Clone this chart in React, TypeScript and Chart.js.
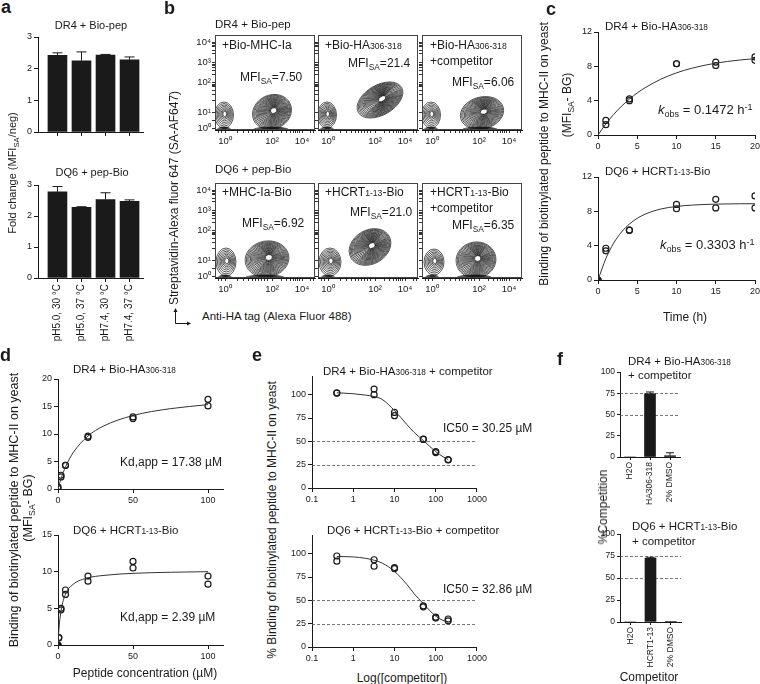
import React, { useEffect, useRef } from 'react';
import { Chart, registerables } from 'chart.js';

Chart.register(...registerables);

const FONT = '"Liberation Sans", Arial, Helvetica, sans-serif';
Chart.defaults.font.family = FONT;
Chart.defaults.color = '#1a1a1a';
const INK = '#1a1a1a';

// ---------------- Panel a ----------------
const aCategories = ['pH5.0, 30 °C', 'pH5.0, 37 °C', 'pH7.4, 30 °C', 'pH7.4, 37 °C'];
const aPositions = [0, 1, 2, 3];
const aDR4Mean = [2.42, 2.25, 2.43, 2.28];
const aDR4ErrTop = [2.5, 2.53, 2.45, 2.37];
const aDQ6Mean = [2.78, 2.28, 2.53, 2.47];
const aDQ6ErrTop = [2.95, 2.3, 2.75, 2.52];
const aYTicks = [0, 1, 2, 3];

// ---------------- Panel b (flow cytometry contours) ----------------
const bXMajor = [10, 57, 87];
const bXMajorLabels = ['10⁰', '10²', '10⁴'];
const bXMinor = [3, 6, 22, 28, 33, 37, 40, 43, 46, 49, 52, 66, 71, 75, 78, 80, 82, 84, 95, 98];
const bYMajor = [2, 18, 48, 68, 88];
const bYMajorLabels = ['10⁰', '10¹', '10²', '10³', '10⁴'];
const bYMinor = [10, 30, 36, 40, 43, 45, 46, 56, 60, 63, 65, 66, 76, 80, 83, 85, 86];

const bDR4MhcIa = [
  { x: 9, y: 15, rx: 9.5, ry: 13, rot: 0, n: 8 },
  { x: 57, y: 18, rx: 20, ry: 17, rot: 25, n: 20 },
  { x: 9, y: 0, rx: 7, ry: 3, rot: 0, n: 6 },
  { x: 56, y: 0, rx: 18, ry: 3, rot: 0, n: 7 },
];
const bDR4HA = [
  { x: 9, y: 15, rx: 9.5, ry: 13, rot: 0, n: 9 },
  { x: 62, y: 30, rx: 25, ry: 15, rot: 30, n: 22 },
  { x: 9, y: 0, rx: 7, ry: 3, rot: 0, n: 6 },
];
const bDR4HAComp = [
  { x: 9, y: 15, rx: 9.5, ry: 13, rot: 0, n: 8 },
  { x: 60, y: 17, rx: 22, ry: 16, rot: 15, n: 20 },
  { x: 9, y: 0, rx: 7, ry: 3, rot: 0, n: 6 },
  { x: 58, y: 0, rx: 18, ry: 3, rot: 0, n: 7 },
];
const bDQ6MhcIa = [
  { x: 11, y: 16, rx: 10, ry: 14, rot: 0, n: 8 },
  { x: 52, y: 19, rx: 22, ry: 18, rot: 10, n: 20 },
  { x: 10, y: 0, rx: 7, ry: 3, rot: 0, n: 6 },
  { x: 50, y: 0, rx: 20, ry: 3, rot: 0, n: 7 },
];
const bDQ6HCRT = [
  { x: 12, y: 16, rx: 11, ry: 14, rot: 0, n: 9 },
  { x: 52, y: 31, rx: 22, ry: 17, rot: 30, n: 22 },
  { x: 10, y: 0, rx: 7, ry: 3, rot: 0, n: 6 },
];
const bDQ6HCRTComp = [
  { x: 12, y: 16, rx: 10, ry: 13, rot: 0, n: 8 },
  { x: 54, y: 18, rx: 20, ry: 18, rot: 10, n: 20 },
  { x: 10, y: 0, rx: 7, ry: 3, rot: 0, n: 6 },
  { x: 52, y: 0, rx: 18, ry: 3, rot: 0, n: 7 },
];

// ---------------- Panel c ----------------
const cDR4Time = [1, 4, 10, 15, 20];
const cDR4Rep1 = [1.7, 4.2, 8.3, 8.5, 9.1];
const cDR4Rep2 = [1.2, 4.0, 8.3, 8.1, 8.7];
const cDQ6Time = [0, 1, 4, 10, 15, 20];
const cDQ6Rep1 = [0, 3.7, 5.8, 8.8, 9.4, 9.8];
const cDQ6Rep2 = [0, 3.4, 5.8, 8.3, 8.4, 8.4];
const cFitTime = [0, 1, 2, 3, 4, 5, 6, 8, 10, 12, 15, 18, 20];
const cDR4Fit = [0, 1.29, 2.4, 3.36, 4.18, 4.9, 5.51, 6.5, 7.24, 7.79, 8.37, 8.73, 8.9];
const cDQ6Fit = [0, 2.5, 4.3, 5.59, 6.52, 7.19, 7.67, 8.27, 8.57, 8.73, 8.84, 8.88, 8.89];
const cXTicks = [0, 5, 10, 15, 20];
const cYTicks = [0, 4, 8, 12];

// ---------------- Panel d ----------------
const dDR4Conc = [0, 2, 5, 20, 50, 100];
const dDR4Rep1 = [0.4, 2.5, 4.3, 9.6, 13.1, 16.3];
const dDR4Rep2 = [0.1, 2.2, 4.3, 9.4, 12.8, 15.1];
const dDQ6Conc = [0, 0.5, 2, 5, 20, 50, 100];
const dDQ6Rep1 = [0, 1.0, 5.0, 7.5, 9.4, 11.4, 9.4];
const dDQ6Rep2 = [0, 1.0, 4.8, 6.9, 8.7, 10.5, 8.3];
const dFitConc = [0, 0.5, 1, 2, 5, 10, 20, 30, 50, 75, 100];
const dDR4Fit = [0, 0.5, 0.98, 1.86, 4.02, 6.57, 9.63, 11.4, 13.36, 14.61, 15.33];
const dDQ6Fit = [0, 1.77, 3.02, 4.67, 6.93, 8.26, 9.15, 9.48, 9.77, 9.92, 10.0];
const dXTicks = [0, 50, 100];
const dDR4YTicks = [0, 5, 10, 15, 20];
const dDQ6YTicks = [0, 5, 10, 15];

// ---------------- Panel e ----------------
const eConc = [0.4, 3.2, 10, 50, 100, 200];
const eDR4Rep1 = [102, 106, 81, 52.5, 39, 30.5];
const eDR4Rep2 = [101.5, 100, 77.5, 52, 38, 30];
const eDQ6Rep1 = [97.5, 93.5, 85, 44, 32, 30];
const eDQ6Rep2 = [92, 86.5, 84, 43, 31, 28];
const eFitConc = [0.4, 1, 2, 3.2, 5, 10, 20, 30, 50, 70, 100, 150, 200];
const eDR4Fit = [102, 101, 99.5, 98, 95, 83, 68, 59.5, 51, 45, 39, 33.5, 30.5];
const eDQ6Fit = [97, 96.5, 95, 93, 90, 81, 67, 57, 46.5, 39.5, 33, 28.5, 26.5];
const eXTicks = [0.1, 1, 10, 100, 1000];
const eYTicks = [0, 25, 50, 75, 100];
const eRefLines = [50, 25];

// ---------------- Panel f ----------------
const fDR4Cats = ['H2O', 'HA306-318', '2% DMSO'];
const fDR4Mean = [0, 74.5, 1.5];
const fDR4ErrTop = [0, 76.5, 5];
const fDQ6Cats = ['H2O', 'HCRT1-13', '2% DMSO'];
const fDQ6Mean = [0, 72.5, 0.5];
const fDQ6ErrTop = [0, 73.5, 0.8];
const fYTicks = [0, 25, 50, 75, 100];
const fRefLines = [75, 50];

// ---------------- helpers ----------------
const zip = (xs: number[], ys: number[]) => xs.map((x, i) => ({ x, y: ys[i] }));

function axis(base: any, ticks: any = {}, grid: any = {}) {
  return {
    border: { display: true, color: INK, width: 1 },
    grid: { display: true, drawOnChartArea: false, drawTicks: true, tickLength: 4, color: INK, lineWidth: 1, ...grid },
    ticks: { color: INK, font: { size: 9, family: FONT }, padding: 2, autoSkip: false, maxRotation: 0, minRotation: 0, ...ticks },
    ...base,
  };
}
const setTicks = (vals: number[]) => (s: any) => {
  s.ticks = vals.map((v) => ({ value: v }));
};

const errorBarPlugin = {
  id: 'errBars',
  afterDatasetsDraw(chart: any, _a: any, opts: any) {
    const tops = opts && opts.tops;
    if (!tops) return;
    const ctx = chart.ctx;
    const meta = chart.getDatasetMeta(0);
    const ys = chart.scales.y;
    const cap = opts.cap || 4;
    ctx.save();
    ctx.strokeStyle = INK;
    ctx.lineWidth = 1;
    meta.data.forEach((el: any, i: number) => {
      const top = tops[i];
      if (top == null) return;
      const yT = ys.getPixelForValue(top);
      if (yT >= el.y - 0.3) return;
      ctx.beginPath();
      ctx.moveTo(el.x, el.y);
      ctx.lineTo(el.x, yT);
      ctx.moveTo(el.x - cap, yT);
      ctx.lineTo(el.x + cap, yT);
      ctx.stroke();
    });
    ctx.restore();
  },
};

const refLinePlugin = {
  id: 'refLines',
  beforeDatasetsDraw(chart: any, _a: any, opts: any) {
    const vals = opts && opts.values;
    if (!vals) return;
    const { ctx, chartArea: ca } = chart;
    const ys = chart.scales.y;
    ctx.save();
    ctx.strokeStyle = '#555';
    ctx.lineWidth = 0.8;
    ctx.setLineDash([3, 2]);
    vals.forEach((v: number) => {
      const y = Math.round(ys.getPixelForValue(v)) + 0.5;
      ctx.beginPath();
      ctx.moveTo(ca.left, y);
      ctx.lineTo(ca.right, y);
      ctx.stroke();
    });
    ctx.restore();
  },
};

const framePlugin = {
  id: 'frame',
  afterDraw(chart: any) {
    const { ctx, chartArea: ca } = chart;
    ctx.save();
    ctx.strokeStyle = '#444';
    ctx.lineWidth = 1;
    ctx.strokeRect(Math.round(ca.left) + 0.5, Math.round(ca.top) + 0.5, Math.round(ca.width) - 1, Math.round(ca.height) - 1);
    ctx.restore();
  },
};

const contourPlugin = {
  id: 'contours',
  beforeDatasetsDraw(chart: any) {
    const ds = chart.data.datasets[0];
    if (!ds) return;
    const { ctx, chartArea: ca } = chart;
    const xs = chart.scales.x;
    const ys = chart.scales.y;
    ctx.save();
    ctx.beginPath();
    ctx.rect(ca.left, ca.top, ca.width, ca.height);
    ctx.clip();
    ctx.strokeStyle = '#111';
    ctx.lineWidth = 0.7;
    ds.data.forEach((p: any) => {
      const cx = xs.getPixelForValue(p.x);
      const cy = ys.getPixelForValue(p.y);
      const rx = Math.abs(xs.getPixelForValue(p.x + p.rx) - cx);
      const ry = Math.abs(ys.getPixelForValue(p.y + p.ry) - cy);
      const ang = -(p.rot || 0) * Math.PI / 180;
      for (let k = 1; k <= p.n; k++) {
        const s = 0.14 + 0.86 * Math.pow(k / p.n, 1.25);
        const ox = (1 - s) * rx * 0.1;
        const oy = -(1 - s) * ry * 0.1;
        ctx.beginPath();
        ctx.ellipse(cx + ox, cy + oy, Math.max(rx * s, 0.6), Math.max(ry * s, 0.6), ang, 0, Math.PI * 2);
        ctx.stroke();
      }
    });
    ctx.restore();
  },
};

type Box = [number, number, number, number];

function ChartPanel({ plot, pad, make }: { plot: Box; pad: Box; make: () => any }) {
  const ref = useRef<HTMLCanvasElement>(null);
  const [l, t, r, b] = plot;
  const [pl, pt, pr, pb] = pad;
  const w = r - l + pl + pr;
  const h = b - t + pt + pb;
  useEffect(() => {
    const cfg = make();
    const o = cfg.options || (cfg.options = {});
    o.responsive = false;
    o.maintainAspectRatio = false;
    o.animation = false;
    o.devicePixelRatio = 1;
    o.layout = { padding: { left: 0, top: pt, right: pr, bottom: 0 } };
    o.plugins = { legend: { display: false }, tooltip: { enabled: false }, ...(o.plugins || {}) };
    o.scales.x.afterFit = (s: any) => { s.height = pb; };
    o.scales.y.afterFit = (s: any) => { s.width = pl; };
    const chart = new Chart(ref.current as HTMLCanvasElement, cfg);
    return () => chart.destroy();
  }, []);
  return (
    <canvas
      ref={ref}
      width={w}
      height={h}
      style={{ position: 'absolute', left: l - pl, top: t - pt, width: w, height: h }}
    />
  );
}

// ---------- chart builders ----------
function barA(means: number[], tops: number[], showLabels: boolean) {
  return () => ({
    type: 'bar',
    data: {
      datasets: [{ data: zip(aPositions, means), backgroundColor: INK, borderWidth: 0, barThickness: 19 }],
    },
    options: {
      plugins: { errBars: { tops, cap: 5 } },
      scales: {
        x: axis(
          { type: 'linear', min: -0.81, max: 3.56, offset: false, afterBuildTicks: setTicks(aPositions) },
          showLabels
            ? { callback: (v: number) => aCategories[v] ?? '', minRotation: 90, maxRotation: 90, font: { size: 10, family: FONT }, padding: 2 }
            : { callback: () => '' },
          { offset: false },
        ),
        y: axis({ type: 'linear', min: 0, max: 3, afterBuildTicks: setTicks(aYTicks) }, { font: { size: 9, family: FONT } }),
      },
    },
    plugins: [errorBarPlugin],
  });
}

function contourChart(pops: any[], showY: boolean) {
  return () => ({
    type: 'scatter',
    data: { datasets: [{ data: pops, pointRadius: 0, showLine: false }] },
    options: {
      scales: {
        x: axis(
          { type: 'linear', min: 0, max: 100, afterBuildTicks: setTicks([...bXMajor, ...bXMinor]) },
          {
            callback: (v: number) => {
              const i = bXMajor.indexOf(v);
              return i >= 0 ? bXMajorLabels[i] : '';
            },
            font: { size: 9.5, family: FONT },
            padding: 3,
          },
          { tickLength: 3, color: '#333' },
        ),
        y: axis(
          { type: 'linear', min: 0, max: 95, afterBuildTicks: setTicks([...bYMajor, ...bYMinor]) },
          {
            callback: (v: number) => {
              if (!showY) return '';
              const i = bYMajor.indexOf(v);
              return i >= 0 ? bYMajorLabels[i] : '';
            },
            font: { size: 9.5, family: FONT },
            padding: 1,
          },
          { tickLength: 3, color: '#333' },
        ),
      },
    },
    plugins: [contourPlugin, framePlugin],
  });
}

function fitChart(opts: {
  xs: number[]; r1: number[]; r2: number[]; fx: number[]; fy: number[];
  xType: string; xMin: number; xMax: number; xTicks: number[];
  yMax: number; yTicks: number[]; ref?: number[];
}) {
  return () => {
    const fill = (arr: number[], xs: number[]) => xs.map((x, i) => (x === 0 && arr[i] === 0 ? INK : 'rgba(255,255,255,0)'));
    const pt = {
      pointRadius: 3,
      pointBorderWidth: 1.2,
      pointBorderColor: INK,
      showLine: false,
    };
    return {
      type: 'scatter',
      data: {
        datasets: [
          {
            data: zip(opts.fx, opts.fy),
            showLine: true,
            pointRadius: 0,
            borderColor: '#333',
            borderWidth: 1,
            cubicInterpolationMode: 'monotone',
          },
          { data: zip(opts.xs, opts.r1), pointBackgroundColor: fill(opts.r1, opts.xs), ...pt },
          { data: zip(opts.xs, opts.r2), pointBackgroundColor: fill(opts.r2, opts.xs), ...pt },
        ],
      },
      options: {
        plugins: { refLines: { values: opts.ref } },
        scales: {
          x: axis(
            { type: opts.xType, min: opts.xMin, max: opts.xMax, afterBuildTicks: setTicks(opts.xTicks) },
            { callback: (v: number) => String(v), font: { size: 9, family: FONT }, padding: 2 },
          ),
          y: axis(
            { type: 'linear', min: 0, max: opts.yMax, afterBuildTicks: setTicks(opts.yTicks) },
            { callback: (v: number) => String(v), font: { size: 9, family: FONT }, padding: 2 },
          ),
        },
      },
      plugins: [refLinePlugin],
    };
  };
}

function barF(cats: string[], means: number[], tops: number[]) {
  return () => ({
    type: 'bar',
    data: { labels: cats, datasets: [{ data: means, backgroundColor: INK, borderWidth: 0, barThickness: 11 }] },
    options: {
      plugins: { errBars: { tops, cap: 4 }, refLines: { values: fRefLines } },
      scales: {
        x: axis({ type: 'category', offset: true }, { minRotation: 90, maxRotation: 90, font: { size: 8.5, family: FONT }, padding: 2 }, { offset: false, tickLength: 3 }),
        y: axis({ type: 'linear', min: 0, max: 100, afterBuildTicks: setTicks(fYTicks) }, { font: { size: 8.5, family: FONT }, padding: 2 }, { tickLength: 3 }),
      },
    },
    plugins: [refLinePlugin, errorBarPlugin],
  });
}

// ---------- text helpers ----------
function Txt({ x, y, size = 11.5, children, rotate = false, center = false, bold = false }: any) {
  const style: React.CSSProperties = {
    position: 'absolute',
    left: x,
    top: y,
    fontSize: size,
    lineHeight: 1,
    whiteSpace: 'nowrap',
    fontFamily: FONT,
    color: INK,
    fontWeight: bold ? 700 : 400,
    transform: rotate ? 'translate(-50%,-50%) rotate(-90deg)' : center ? 'translate(-50%,-50%)' : 'translateY(-50%)',
  };
  return <div style={style}>{children}</div>;
}
const Sub = ({ c }: any) => <span style={{ fontSize: '0.7em', position: 'relative', top: '0.35em' }}>{c}</span>;
const Sup = ({ c }: any) => <span style={{ fontSize: '0.7em', position: 'relative', top: '-0.45em' }}>{c}</span>;
const Sm = ({ c }: any) => <span style={{ fontSize: '0.72em' }}>{c}</span>;
const MFI = ({ v }: any) => <>MFI<Sub c="SA" />={v}</>;
function MFIlabel() {
  return <>MFI<Sub c="SA" /></>;
}

const colX: [number, number][] = [[215, 315], [318, 418], [422, 522]];
const rowY: [number, number][] = [[35, 130], [183, 278]];

export default function App() {
  return (
    <div style={{ position: 'absolute', left: 0, top: 0, width: 760, height: 684, overflow: 'hidden', background: '#fff', fontFamily: FONT }}>
      {/* Panel a */}
      <ChartPanel plot={[38, 37, 143, 132]} pad={[24, 8, 6, 8]} make={barA(aDR4Mean, aDR4ErrTop, false)} />
      <ChartPanel plot={[38, 185, 143, 278]} pad={[24, 8, 6, 66]} make={barA(aDQ6Mean, aDQ6ErrTop, true)} />

      {/* Panel b */}
      <ChartPanel plot={[colX[0][0], rowY[0][0], colX[0][1], rowY[0][1]]} pad={[30, 7, 4, 20]} make={contourChart(bDR4MhcIa, true)} />
      <ChartPanel plot={[colX[1][0], rowY[0][0], colX[1][1], rowY[0][1]]} pad={[8, 7, 4, 20]} make={contourChart(bDR4HA, false)} />
      <ChartPanel plot={[colX[2][0], rowY[0][0], colX[2][1], rowY[0][1]]} pad={[8, 7, 4, 20]} make={contourChart(bDR4HAComp, false)} />
      <ChartPanel plot={[colX[0][0], rowY[1][0], colX[0][1], rowY[1][1]]} pad={[30, 7, 4, 20]} make={contourChart(bDQ6MhcIa, true)} />
      <ChartPanel plot={[colX[1][0], rowY[1][0], colX[1][1], rowY[1][1]]} pad={[8, 7, 4, 20]} make={contourChart(bDQ6HCRT, false)} />
      <ChartPanel plot={[colX[2][0], rowY[1][0], colX[2][1], rowY[1][1]]} pad={[8, 7, 4, 20]} make={contourChart(bDQ6HCRTComp, false)} />

      {/* Panel c */}
      <ChartPanel plot={[598, 32, 755, 135]} pad={[22, 8, 10, 20]} make={fitChart({ xs: cDR4Time, r1: cDR4Rep1, r2: cDR4Rep2, fx: cFitTime, fy: cDR4Fit, xType: 'linear', xMin: 0, xMax: 20, xTicks: cXTicks, yMax: 12, yTicks: cYTicks })} />
      <ChartPanel plot={[598, 176.5, 755, 280]} pad={[22, 8, 10, 20]} make={fitChart({ xs: cDQ6Time, r1: cDQ6Rep1, r2: cDQ6Rep2, fx: cFitTime, fy: cDQ6Fit, xType: 'linear', xMin: 0, xMax: 20, xTicks: cXTicks, yMax: 12, yTicks: cYTicks })} />

      {/* Panel d */}
      <ChartPanel plot={[58, 379, 223, 489]} pad={[22, 8, 8, 18]} make={fitChart({ xs: dDR4Conc, r1: dDR4Rep1, r2: dDR4Rep2, fx: dFitConc, fy: dDR4Fit, xType: 'linear', xMin: 0, xMax: 110, xTicks: dXTicks, yMax: 20, yTicks: dDR4YTicks })} />
      <ChartPanel plot={[58, 535, 223, 645]} pad={[22, 8, 8, 18]} make={fitChart({ xs: dDQ6Conc, r1: dDQ6Rep1, r2: dDQ6Rep2, fx: dFitConc, fy: dDQ6Fit, xType: 'linear', xMin: 0, xMax: 110, xTicks: dXTicks, yMax: 15, yTicks: dDQ6YTicks })} />

      {/* Panel e */}
      <ChartPanel plot={[312, 376, 477, 488]} pad={[22, 8, 12, 18]} make={fitChart({ xs: eConc, r1: eDR4Rep1, r2: eDR4Rep2, fx: eFitConc, fy: eDR4Fit, xType: 'logarithmic', xMin: 0.1, xMax: 1000, xTicks: eXTicks, yMax: 120, yTicks: eYTicks, ref: eRefLines })} />
      <ChartPanel plot={[312, 535, 477, 647]} pad={[22, 8, 12, 18]} make={fitChart({ xs: eConc, r1: eDQ6Rep1, r2: eDQ6Rep2, fx: eFitConc, fy: eDQ6Fit, xType: 'logarithmic', xMin: 0.1, xMax: 1000, xTicks: eXTicks, yMax: 120, yTicks: eYTicks, ref: eRefLines })} />

      {/* Panel f */}
      <ChartPanel plot={[620, 372, 680, 457]} pad={[20, 8, 6, 55]} make={barF(fDR4Cats, fDR4Mean, fDR4ErrTop)} />
      <ChartPanel plot={[620, 534, 681, 622]} pad={[20, 8, 6, 55]} make={barF(fDQ6Cats, fDQ6Mean, fDQ6ErrTop)} />

      {/* ---------- texts ---------- */}
      <Txt x={1} y={7} size={18} bold>a</Txt>
      <Txt x={91} y={25} center size={11}>DR4 + Bio-pep</Txt>
      <Txt x={92} y={172} center size={11}>DQ6 + pep-Bio</Txt>
      <Txt x={12} y={173} rotate size={11}>Fold change (<MFIlabel />/neg)</Txt>

      <Txt x={164} y={8} size={18} bold>b</Txt>
      <Txt x={215} y={25} size={11.5}>DR4 + Bio-pep</Txt>
      <Txt x={215} y={170} size={11.5}>DQ6 + pep-Bio</Txt>
      <Txt x={222} y={45} size={12}>+Bio-MHC-Ia</Txt>
      <Txt x={240} y={77} size={12}><MFI v="7.50" /></Txt>
      <Txt x={325} y={45} size={12}>+Bio-HA<Sm c="306-318" /></Txt>
      <Txt x={348} y={63} size={12}><MFI v="21.4" /></Txt>
      <Txt x={430} y={45} size={12}>+Bio-HA<Sm c="306-318" /></Txt>
      <Txt x={430} y={61} size={12}>+competitor</Txt>
      <Txt x={452} y={82} size={12}><MFI v="6.06" /></Txt>
      <Txt x={222} y={192} size={12}>+MHC-Ia-Bio</Txt>
      <Txt x={242} y={223} size={12}><MFI v="6.92" /></Txt>
      <Txt x={325} y={192} size={12}>+HCRT<Sm c="1-13" />-Bio</Txt>
      <Txt x={350} y={212} size={12}><MFI v="21.0" /></Txt>
      <Txt x={430} y={192} size={12}>+HCRT<Sm c="1-13" />-Bio</Txt>
      <Txt x={430} y={208} size={12}>+competitor</Txt>
      <Txt x={452} y={225} size={12}><MFI v="6.35" /></Txt>
      <Txt x={174} y={198} rotate size={12}>Streptavidin-Alexa fluor 647 (SA-AF647)</Txt>
      <Txt x={202} y={317} size={11.5}>Anti-HA tag (Alexa Fluor 488)</Txt>
      <svg style={{ position: 'absolute', left: 170, top: 304 }} width={26} height={26}>
        <line x1={5.5} y1={19.5} x2={5.5} y2={7} stroke={INK} strokeWidth={1} />
        <polygon points="5.5,4 3.5,8 7.5,8" fill={INK} />
        <line x1={5.5} y1={19.5} x2={18} y2={19.5} stroke={INK} strokeWidth={1} />
        <polygon points="21,19.5 17,17.5 17,21.5" fill={INK} />
      </svg>

      <Txt x={546} y={8.5} size={18} bold>c</Txt>
      <Txt x={605} y={27} size={11.5}>DR4 + Bio-HA<Sm c="306-318" /></Txt>
      <Txt x={605} y={172} size={11.5}>DQ6 + HCRT<Sm c="1-13" />-Bio</Txt>
      <Txt x={658} y={110} size={13}><i>k</i><Sub c="obs" /> = 0.1472 h<Sup c="-1" /></Txt>
      <Txt x={660} y={245} size={13}><i>k</i><Sub c="obs" /> = 0.3303 h<Sup c="-1" /></Txt>
      <Txt x={685} y={317} center size={12}>Time (h)</Txt>
      <Txt x={544} y={154} rotate size={12}>Binding of biotinylated peptide to MHC-II on yeast</Txt>
      <Txt x={567} y={105} rotate size={12}>(<MFIlabel />- BG)</Txt>

      <Txt x={0} y={355} size={18} bold>d</Txt>
      <Txt x={73} y={370} size={11.5}>DR4 + Bio-HA<Sm c="306-318" /></Txt>
      <Txt x={73} y={531} size={11.5}>DQ6 + HCRT<Sm c="1-13" />-Bio</Txt>
      <Txt x={120} y={462} size={12}>Kd,app = 17.38 µM</Txt>
      <Txt x={120} y={617} size={12}>Kd,app = 2.39 µM</Txt>
      <Txt x={145} y={673} center size={12}>Peptide concentration (µM)</Txt>
      <Txt x={14} y={510} rotate size={12.5}>Binding of biotinylated peptide to MHC-II on yeast</Txt>
      <Txt x={28} y={508} rotate size={12.5}>(<MFIlabel />- BG)</Txt>

      <Txt x={252} y={354.5} size={18} bold>e</Txt>
      <Txt x={323} y={372} size={11.5}>DR4 + Bio-HA<Sm c="306-318" /> + competitor</Txt>
      <Txt x={327} y={531} size={11.5}>DQ6 + HCRT<Sm c="1-13" />-Bio + competitor</Txt>
      <Txt x={443} y={428} size={12}>IC50 = 30.25 µM</Txt>
      <Txt x={443} y={589} size={12}>IC50 = 32.86 µM</Txt>
      <Txt x={402} y={678} center size={12}>Log([competitor])</Txt>
      <Txt x={272} y={520} rotate size={12}>% Binding of biotinylated peptide to MHC-II on yeast</Txt>

      <Txt x={557} y={359} size={18} bold>f</Txt>
      <Txt x={628} y={362} size={11.5}>DR4 + Bio-HA<Sm c="306-318" /></Txt>
      <Txt x={628} y={376} size={11.5}>+ competitor</Txt>
      <Txt x={632} y={527} size={11.5}>DQ6 + HCRT<Sm c="1-13" />-Bio</Txt>
      <Txt x={632} y={542} size={11.5}>+ competitor</Txt>
      <Txt x={603} y={507} rotate size={12}>%Competition</Txt>
      <Txt x={649} y={677} center size={12}>Competitor</Txt>
    </div>
  );
}
